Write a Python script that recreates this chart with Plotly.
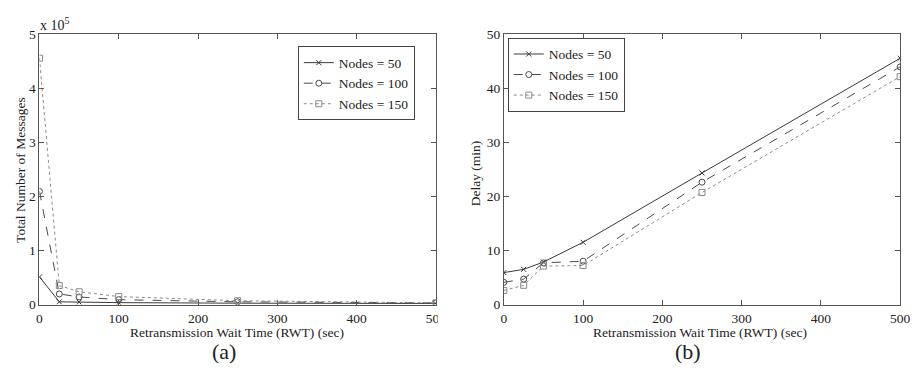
import plotly.graph_objects as go

# ---- data ----
rwt = [0, 25, 50, 100, 250, 500]
series_names = ["Nodes = 50", "Nodes = 100", "Nodes = 150"]

msgs_50 = [51000, 5000, 4500, 3500, 2500, 2000]
msgs_100 = [209000, 19500, 14000, 9000, 5000, 3000]
msgs_150 = [455000, 35000, 23600, 14700, 7000, 3000]

delay_50 = [5.9, 6.5, 7.85, 11.5, 24.3, 45.5]
delay_100 = [4.1, 4.7, 7.7, 8.0, 22.6, 43.9]
delay_150 = [2.6, 3.55, 7.1, 7.2, 20.7, 42.1]

x_ticks = [0, 100, 200, 300, 400, 500]
msg_ticks = [0, 100000, 200000, 300000, 400000, 500000]
msg_ticktext = ["0", "1", "2", "3", "4", "5"]
delay_ticks = [0, 10, 20, 30, 40, 50]

# ---- styles ----
W, H = 922, 373
SERIF = "Liberation Serif, Times New Roman, serif"
styles = [
    dict(line=dict(color="#3a3a3a", width=1, dash="solid"),
         marker=dict(symbol="x-thin", size=5, line=dict(color="#3a3a3a", width=1))),
    dict(line=dict(color="#4a4a4a", width=1, dash="dash"),
         marker=dict(symbol="circle-open", size=6, line=dict(color="#4a4a4a", width=1))),
    dict(line=dict(color="#8a8a8a", width=1, dash="dot"),
         marker=dict(symbol="square-open", size=6, line=dict(color="#555555", width=1))),
]

fig = go.Figure()
for name, ys, st in zip(series_names, [msgs_50, msgs_100, msgs_150], styles):
    fig.add_trace(go.Scatter(x=rwt, y=ys, name=name, mode="lines+markers",
                             xaxis="x", yaxis="y", legend="legend", **st))
for name, ys, st in zip(series_names, [delay_50, delay_100, delay_150], styles):
    fig.add_trace(go.Scatter(x=rwt, y=ys, name=name, mode="lines+markers",
                             xaxis="x2", yaxis="y2", legend="legend2", **st))

def px(xp):
    return xp / W

def py(yp):
    return 1 - yp / H

axis_common = dict(showline=True, linecolor="#555", linewidth=1, mirror="ticks",
                   ticks="inside", ticklen=5, tickcolor="#555", showgrid=False,
                   zeroline=False, tickfont=dict(family=SERIF, size=13.5, color="#222"))

legend_common = dict(xanchor="left", yanchor="top", bordercolor="#444", borderwidth=1,
                     bgcolor="white", font=dict(family=SERIF, size=13.5, color="#222"),
                     tracegroupgap=0, itemwidth=30)

fig.update_layout(
    width=W, height=H, margin=dict(l=0, r=0, t=0, b=0, pad=0),
    paper_bgcolor="white", plot_bgcolor="white",
    font=dict(family=SERIF, color="#222"),
    xaxis=dict(domain=[px(37), px(439)], range=[0, 500], tickvals=x_ticks,
               anchor="y", ticklabelstandoff=1, **axis_common),
    yaxis=dict(domain=[py(310), py(28)], range=[0, 500000], tickvals=msg_ticks,
               ticktext=msg_ticktext, anchor="x", ticklabelstandoff=0, **axis_common),
    xaxis2=dict(domain=[px(508), px(910)], range=[0, 500], tickvals=x_ticks,
                anchor="y2", ticklabelstandoff=1, **axis_common),
    yaxis2=dict(domain=[py(310), py(28)], range=[0, 50], tickvals=delay_ticks,
                anchor="x2", ticklabelstandoff=0, **axis_common),
    legend=dict(x=px(299), y=py(41), **legend_common),
    legend2=dict(x=px(512), y=py(32), **legend_common),
    showlegend=True,
)

ann = []
ann.append(dict(text="Retransmission Wait Time (RWT) (sec)", x=px(237), y=py(339),
                font=dict(size=13.5)))
ann.append(dict(text="Retransmission Wait Time (RWT) (sec)", x=px(707), y=py(339),
                font=dict(size=13.5)))
ann.append(dict(text="Total Number of Messages", x=px(17), y=py(170), textangle=-90,
                font=dict(size=13.5)))
ann.append(dict(text="Delay (min)", x=px(479), y=py(173), textangle=-90,
                font=dict(size=13.5)))
ann.append(dict(text="x 10<sup>5</sup>", x=px(36), y=py(18), xanchor="left",
                font=dict(size=14)))
ann.append(dict(text="(a)", x=px(224), y=py(359), font=dict(size=22)))
ann.append(dict(text="(b)", x=px(695), y=py(359), font=dict(size=22)))
for a in ann:
    a.update(xref="paper", yref="paper", showarrow=False)
    a.setdefault("xanchor", "center")
    a.setdefault("yanchor", "middle")
    a["font"].update(family=SERIF, color="#222")
fig.update_layout(annotations=ann)

# the left panel is clipped at its right edge in the reference
fig.add_shape(type="rect", xref="paper", yref="paper", x0=px(441), x1=px(462),
              y0=py(331), y1=py(312), fillcolor="white", line=dict(width=0), layer="above")

fig.write_html("out.html")
